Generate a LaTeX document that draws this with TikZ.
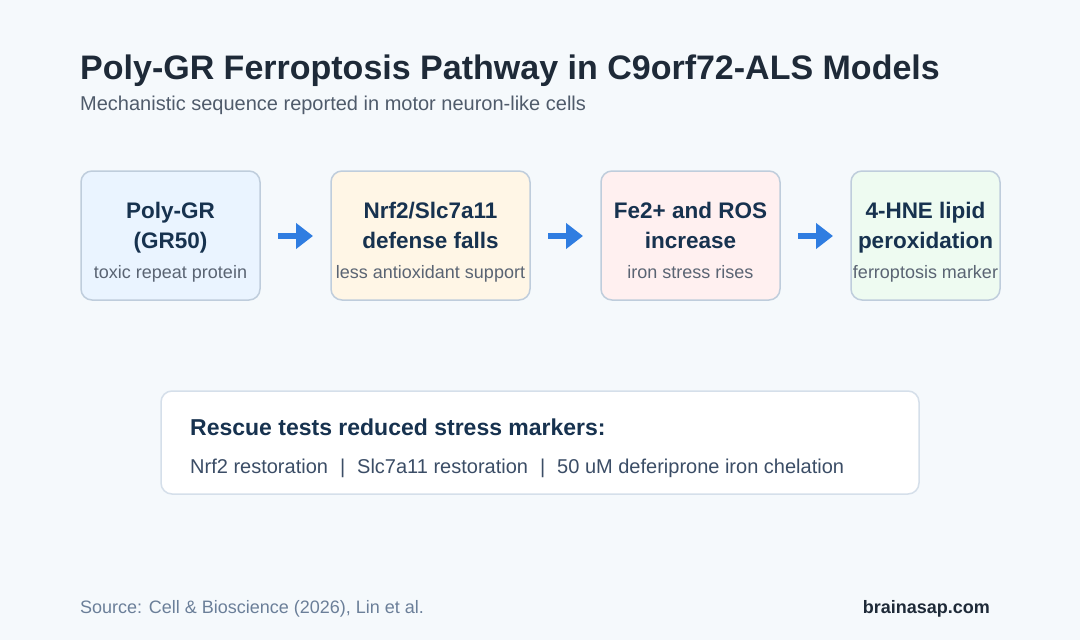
\documentclass[tikz,border=0pt]{standalone}
\usepackage{fontspec}
\setmainfont{Liberation Sans}
\usetikzlibrary{arrows.meta}
\definecolor{bg}{HTML}{F5F9FC}
\definecolor{ink}{HTML}{1E2A38}
\definecolor{boxink}{HTML}{17324F}
\definecolor{sub}{HTML}{4F5B6B}
\definecolor{boxsub}{HTML}{5A6473}
\definecolor{bord}{HTML}{BFCDDC}
\definecolor{fblue}{HTML}{EAF4FF}
\definecolor{fyel}{HTML}{FFF6E6}
\definecolor{fred}{HTML}{FFF0F0}
\definecolor{fgreen}{HTML}{EEFBF1}
\definecolor{arr}{HTML}{2F7DE1}
\definecolor{rescbord}{HTML}{D5DFEA}
\definecolor{resctxt}{HTML}{3B4D66}
\definecolor{foot}{HTML}{6B7F99}
\tikzset{
  stepbox/.style={draw=bord, line width=1.5pt, rounded corners=11pt},
  btitle/.style={font=\fontsize{22.5}{27}\selectfont\bfseries, text=boxink, anchor=base, inner sep=0},
  bsub/.style={font=\fontsize{18}{20}\selectfont, text=boxsub, anchor=base, inner sep=0},
  flow/.style={draw=arr, line width=5.5pt, -{Triangle[length=17pt,width=25pt]}},
}
\newcommand{\sep}{\hspace{12pt}|\hspace{12pt}}
\begin{document}
\begin{tikzpicture}[x=1pt,y=-1pt]
\fill[bg] (0,0) rectangle (1080,640);
\useasboundingbox (0,0) rectangle (1080,640);
\node[anchor=base west, inner sep=0, font=\fontsize{34}{40}\selectfont\bfseries, text=ink] (title) at (80,79) {Poly-GR Ferroptosis Pathway in C9orf72-ALS Models};
\node[anchor=base west, inner sep=0, font=\fontsize{20}{24}\selectfont, text=sub] (subtitle) at (80,110) {Mechanistic sequence reported in motor neuron-like cells};

% boxes
\draw[stepbox, fill=fblue] (81,171) rectangle (260,300);
\draw[stepbox, fill=fyel] (331,171) rectangle (530,300);
\draw[stepbox, fill=fred] (601,171) rectangle (780,300);
\draw[stepbox, fill=fgreen] (851,171) rectangle (1000,300);

\node[btitle] (t1a) at (170.5,218) {Poly-GR};
\node[btitle] (t1b) at (170.5,248) {(GR50)};
\node[btitle] (t2a) at (430.5,218) {Nrf2/Slc7a11};
\node[btitle] (t2b) at (430.5,248) {defense falls};
\node[btitle] (t3a) at (690.5,218) {Fe2+ and ROS};
\node[btitle] (t3b) at (690.5,248) {increase};
\node[btitle] (t4a) at (925.5,218) {4-HNE lipid};
\node[btitle] (t4b) at (925.5,248) {peroxidation};
\node[bsub] (s1) at (170.5,278) {toxic repeat protein};
\node[bsub] (s2) at (430.5,278) {less antioxidant support};
\node[bsub] (s3) at (690.5,278) {iron stress rises};
\node[bsub] (s4) at (925.5,278) {ferroptosis marker};

% arrows
\coordinate (a1s) at (278,236); \coordinate (a1e) at (313,236);
\coordinate (a2s) at (548,236); \coordinate (a2e) at (583,236);
\coordinate (a3s) at (798,236); \coordinate (a3e) at (833,236);
\draw[flow] (a1s) -- (a1e);
\draw[flow] (a2s) -- (a2e);
\draw[flow] (a3s) -- (a3e);

% rescue box
\draw[draw=rescbord, line width=1.5pt, fill=white, rounded corners=11pt] (161,391) rectangle (919,494);
\node[anchor=base west, inner sep=0, font=\fontsize{23}{26}\selectfont\bfseries, text=boxink] (rt) at (190,435) {Rescue tests reduced stress markers:};
\node[anchor=base west, inner sep=0, font=\fontsize{20}{22}\selectfont, text=resctxt] (rl) at (190,473) {Nrf2 restoration\sep Slc7a11 restoration\sep 50 uM deferiprone iron chelation};

% footer
\node[anchor=base west, inner sep=0, font=\fontsize{18}{20}\selectfont, text=foot] (src) at (80,613) {Source: Cell \& Bioscience (2026), Lin et al.};
\node[anchor=base east, inner sep=0, font=\fontsize{18}{20}\selectfont\bfseries, text=ink] (brand) at (990,613) {brainasap.com};
\end{tikzpicture}
\end{document}
